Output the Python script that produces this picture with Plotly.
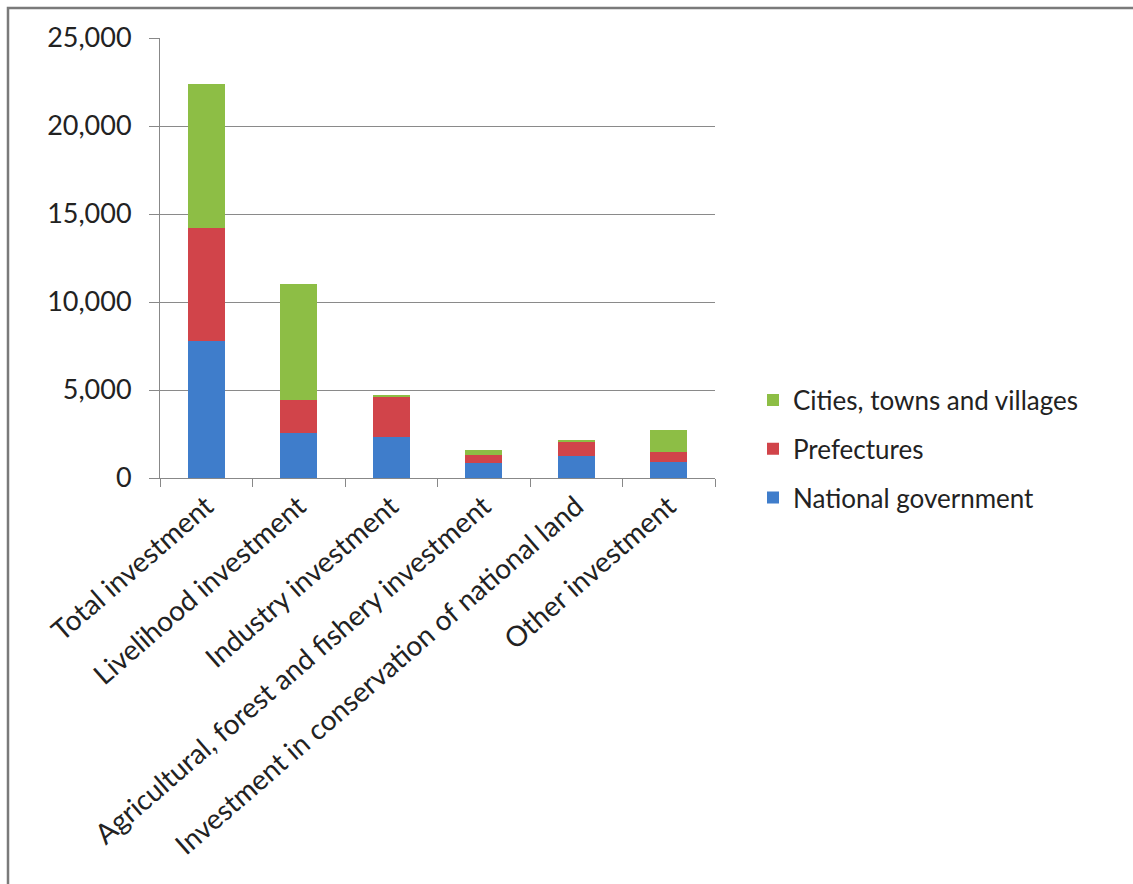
import plotly.graph_objects as go

categories = [
    "Total investment",
    "Livelihood investment",
    "Industry investment",
    "Agricultural, forest and fishery investment",
    "Investment in conservation of national land",
    "Other investment",
]
national_government = [7800, 2570, 2350, 850, 1250, 930]
prefectures = [6400, 1860, 2270, 450, 820, 570]
cities_towns_villages = [8200, 6600, 100, 300, 50, 1230]
y_ticks = [0, 5000, 10000, 15000, 20000, 25000]
y_tick_labels = ["0", "5,000", "10,000", "15,000", "20,000", "25,000"]

W, H = 1133, 884
L, R, T, B = 160, 715, 38, 478  # plot area in pixels
pw, ph = R - L, B - T

def px_x(x):
    return (x - L) / pw

def px_y(y):
    return (B - y) / ph

FONT = "Lato, Carlito, Calibri, sans-serif"
fig = go.Figure()
series = [
    ("National government", national_government, "#3F7DCB", 3),
    ("Prefectures", prefectures, "#D1444A", 2),
    ("Cities, towns and villages", cities_towns_villages, "#8DBE45", 1),
]
for name, vals, col, rank in series:
    fig.add_trace(go.Bar(x=categories, y=vals, name=name, legendgroup=name,
                         legendrank=rank,
                         marker=dict(color=col, line=dict(width=0))))

fig.update_layout(
    width=W, height=H,
    margin=dict(l=L, r=W - R, t=T, b=H - B, autoexpand=False),
    barmode="stack", bargap=0.6,
    plot_bgcolor="white", paper_bgcolor="white",
    font=dict(family=FONT, size=26, color="#222222"),
    showlegend=True,
    legend=dict(x=px_x(753), y=px_y(449), xanchor="left", yanchor="middle",
                traceorder="grouped", tracegroupgap=12,
                font=dict(size=26, color="#222222"), itemwidth=30),
    xaxis=dict(type="category", tickangle=-41, tickson="boundaries",
               ticks="outside", ticklen=8, tickcolor="#888888",
               showline=True, linecolor="#888888", linewidth=1,
               showgrid=False, tickfont=dict(size=28), automargin=False),
    yaxis=dict(range=[0, 25000], tickvals=y_ticks, ticktext=y_tick_labels,
               ticks="outside", ticklen=10, tickcolor="#888888",
               ticklabelstandoff=12,
               showline=True, linecolor="#888888", linewidth=1,
               showgrid=True, gridcolor="#8a8a8a", gridwidth=1,
               zeroline=False, tickfont=dict(size=27), automargin=False),
)

# outer chart frame (left and top edges visible)
fig.add_shape(type="rect", xref="paper", yref="paper",
              x0=px_x(8), x1=px_x(1160), y0=px_y(910), y1=px_y(8),
              line=dict(color="#7a7a7a", width=2.5), fillcolor="rgba(0,0,0,0)",
              layer="below")

fig.write_html("out.html", config={"displayModeBar": False},
               post_script="document.body.style.margin='0';")
